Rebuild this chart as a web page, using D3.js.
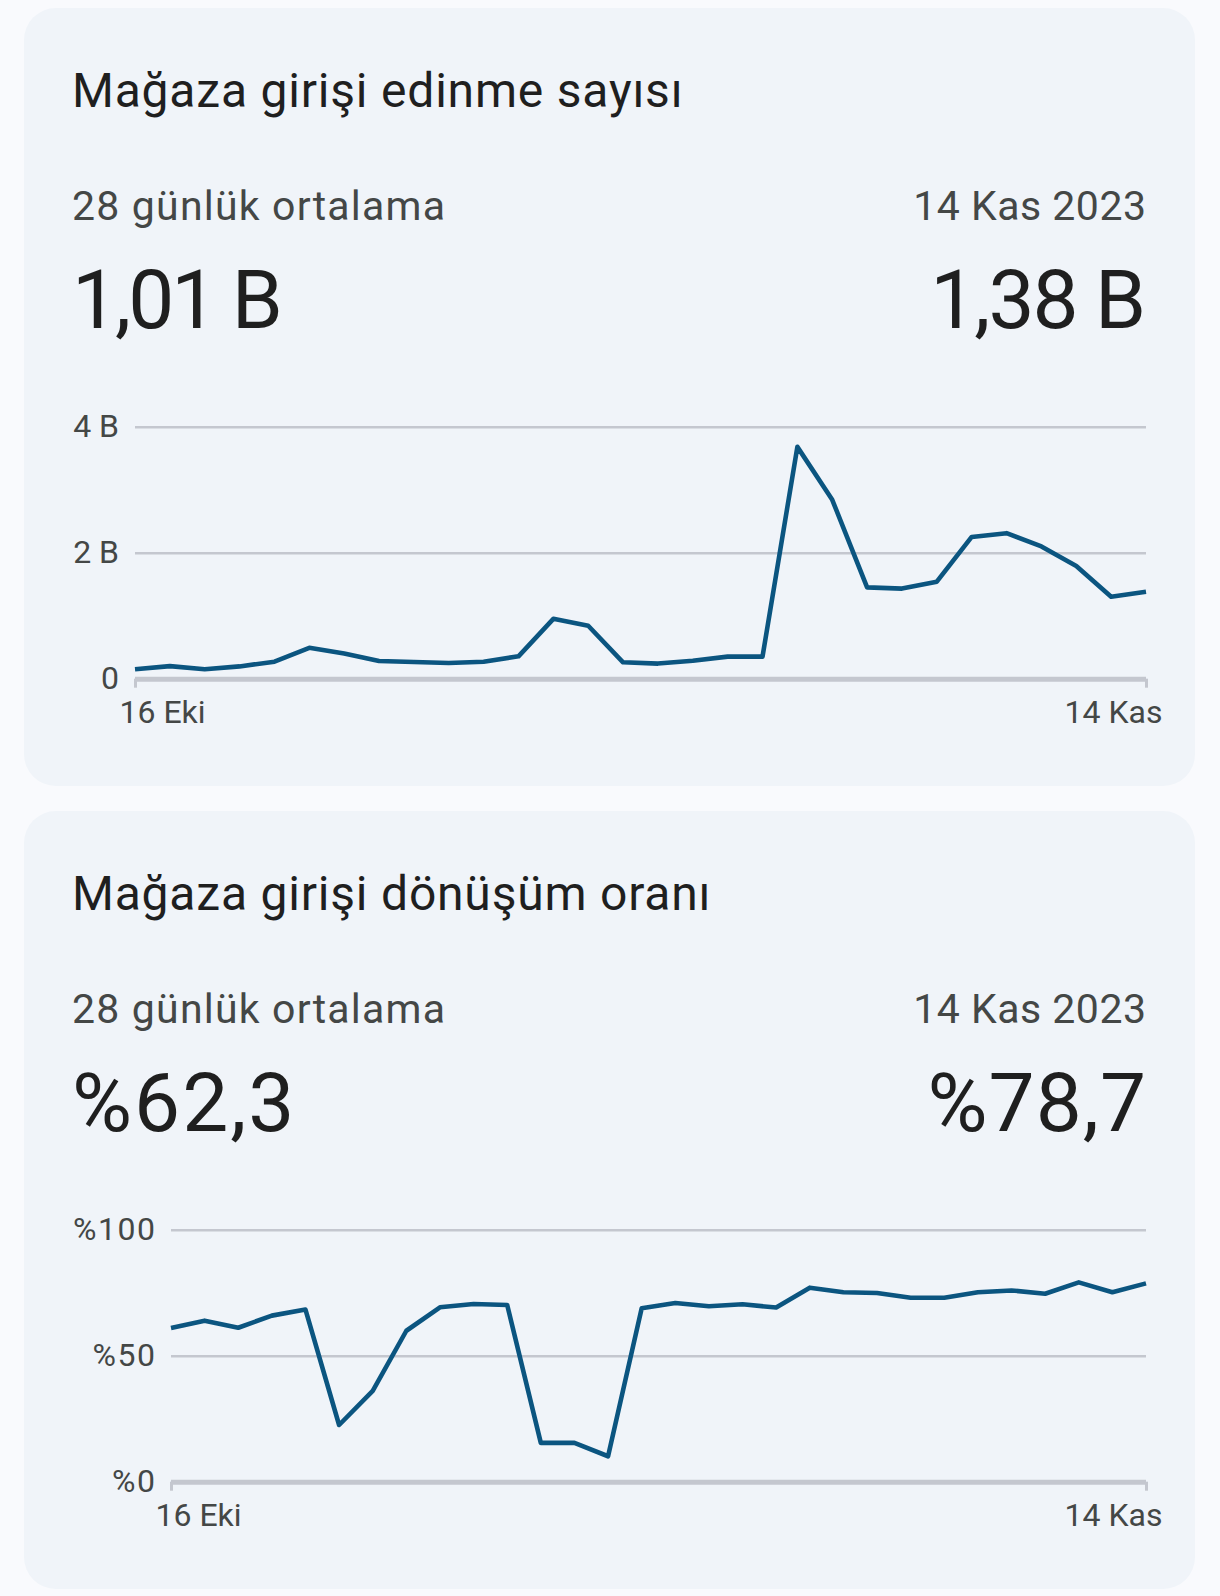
<!DOCTYPE html>
<html>
<head>
<meta charset="utf-8">
<script src="https://cdn.jsdelivr.net/npm/d3@7"></script>
<style>
  html, body { margin: 0; padding: 0; background: #f9fafd; }
  svg { display: block; font-family: Roboto, "Noto Sans", sans-serif; }
</style>
</head>
<body>
<svg id="chart"></svg>
<script>
// days shown on both charts (16 Eki .. 14 Kas 2023)
const days = ['2023-10-16','2023-10-17','2023-10-18','2023-10-19','2023-10-20','2023-10-21',
  '2023-10-22','2023-10-23','2023-10-24','2023-10-25','2023-10-26','2023-10-27','2023-10-28',
  '2023-10-29','2023-10-30','2023-10-31','2023-11-01','2023-11-02','2023-11-03','2023-11-04',
  '2023-11-05','2023-11-06','2023-11-07','2023-11-08','2023-11-09','2023-11-10','2023-11-11',
  '2023-11-12','2023-11-13','2023-11-14'];

// store-listing acquisitions (units)
const acquisitions = [150, 200, 150, 195, 270, 490, 400, 280, 265, 250,
  270, 355, 950, 840, 260, 240, 285, 350, 350, 3680,
  2840, 1450, 1430, 1540, 2250, 2310, 2100, 1790, 1300, 1380];

// store-listing conversion rate (%)
const conversion = [61.0, 63.9, 61.1, 65.9, 68.3, 22.5, 36.0, 59.9, 69.2, 70.5,
  70.1, 15.4, 15.4, 10.1, 68.8, 70.9, 69.6, 70.4, 69.1, 77.0,
  75.2, 74.9, 73.0, 73.0, 75.2, 75.9, 74.6, 79.1, 75.2, 78.7];

const acqTicks = [0, 2000, 4000];
const acqTickLabels = ['0', '2 B', '4 B'];
const convTicks = [0, 50, 100];
const convTickLabels = ['%0', '%50', '%100'];
const xTickLabels = ['16 Eki', '14 Kas'];

const titles = ['Mağaza girişi edinme sayısı', 'Mağaza girişi dönüşüm oranı'];
const avgLabel = '28 günlük ortalama';
const lastLabel = '14 Kas 2023';
const avgValues = ['1,01 B', '%62,3'];
const lastValues = ['1,38 B', '%78,7'];

const svgWidth = 1220, svgHeight = 1596;
const parseDay = d3.timeParse('%Y-%m-%d');
const dates = days.map(parseDay);

const svg = d3.select('#chart')
  .attr('width', svgWidth)
  .attr('height', svgHeight);

svg.append('rect')
  .attr('width', svgWidth).attr('height', svgHeight)
  .attr('fill', '#f9fafd');

function drawCard(top, cfg) {
  var g = svg.append('g').attr('transform', 'translate(0,' + top + ')');
  var right = 1146;

  g.append('rect')
    .attr('x', 24).attr('y', 0)
    .attr('width', 1171).attr('height', 778)
    .attr('rx', 32)
    .attr('fill', '#f0f4f9');

  g.append('text')
    .attr('x', 72).attr('y', 99)
    .attr('font-size', 48)
    .attr('letter-spacing', 0.8)
    .attr('fill', '#1f1f1f')
    .text(cfg.title);

  g.append('text')
    .attr('x', 72).attr('y', 212)
    .attr('font-size', 41)
    .attr('letter-spacing', 1.2)
    .attr('fill', '#444746')
    .text(avgLabel);

  // chrome adds spacing after the last glyph, so shift end-anchored text by it
  g.append('text')
    .attr('x', right + 0.5).attr('y', 212)
    .attr('text-anchor', 'end')
    .attr('font-size', 41)
    .attr('letter-spacing', 0.5)
    .attr('fill', '#444746')
    .text(lastLabel);

  g.append('text')
    .attr('x', 72).attr('y', 320)
    .attr('font-size', 82)
    .attr('letter-spacing', cfg.avgSpacing)
    .attr('fill', '#1f1f1f')
    .text(cfg.avg);

  g.append('text')
    .attr('x', right + cfg.lastSpacing).attr('y', 320)
    .attr('text-anchor', 'end')
    .attr('font-size', 82)
    .attr('letter-spacing', cfg.lastSpacing)
    .attr('fill', '#1f1f1f')
    .text(cfg.last);

  var x = d3.scaleTime()
    .domain(d3.extent(dates))
    .range([cfg.left, right]);

  var y = d3.scaleLinear()
    .domain([0, cfg.ticks[cfg.ticks.length - 1]])
    .range([670.7, 418.7]);

  // grid + y labels
  var yAxis = g.append('g')
    .attr('transform', 'translate(' + cfg.left + ',0)')
    .call(d3.axisLeft(y)
      .tickValues(cfg.ticks)
      .tickSize(-(right - cfg.left))
      .tickPadding(16 - cfg.tickSpacing)
      .tickFormat((d, i) => cfg.tickLabels[i]));
  yAxis.select('.domain').remove();
  yAxis.selectAll('.tick line')
    .attr('stroke', '#c4c7cf')
    .attr('stroke-width', d => d === 0 ? 5 : 2.5);
  yAxis.selectAll('.tick text')
    .attr('font-family', 'Roboto, sans-serif')
    .attr('font-size', 32)
    .attr('letter-spacing', cfg.tickSpacing)
    .attr('fill', '#444746');

  // x axis: end ticks and labels
  var xAxis = g.append('g')
    .attr('transform', 'translate(0,' + y(0) + ')')
    .call(d3.axisBottom(x)
      .tickValues([dates[0], dates[dates.length - 1]])
      .tickSize(9)
      .tickPadding(13)
      .tickFormat((d, i) => xTickLabels[i]));
  xAxis.select('.domain').remove();
  xAxis.selectAll('.tick line')
    .attr('stroke', '#c4c7cf')
    .attr('stroke-width', 3);
  xAxis.selectAll('.tick text')
    .attr('font-family', 'Roboto, sans-serif')
    .attr('font-size', 32)
    .attr('fill', '#444746')
    .attr('text-anchor', (d, i) => i === 0 ? 'start' : 'end')
    .attr('dx', (d, i) => i === 0 ? -16 : 16);

  var line = d3.line()
    .x((d, i) => x(dates[i]))
    .y(d => y(d));

  g.append('path')
    .datum(cfg.values)
    .attr('fill', 'none')
    .attr('stroke', '#0b5580')
    .attr('stroke-width', 4.6)
    .attr('stroke-linejoin', 'round')
    .attr('stroke-linecap', 'butt')
    .attr('d', line);
}

drawCard(8, {
  title: titles[0], avg: avgValues[0], last: lastValues[0],
  avgSpacing: -3, lastSpacing: -2, tickSpacing: 0,
  values: acquisitions, ticks: acqTicks, tickLabels: acqTickLabels, left: 135
});

drawCard(811, {
  title: titles[1], avg: avgValues[1], last: lastValues[1],
  avgSpacing: 2, lastSpacing: 1, tickSpacing: 1.5,
  values: conversion, ticks: convTicks, tickLabels: convTickLabels, left: 171
});
</script>
</body>
</html>
